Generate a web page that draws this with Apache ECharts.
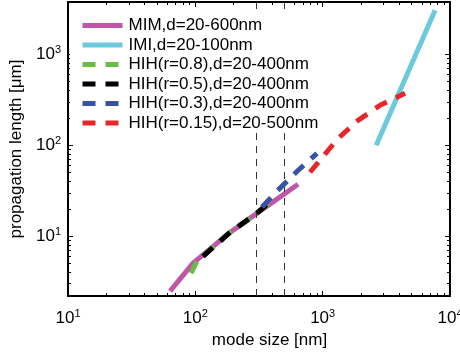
<!DOCTYPE html>
<html>
<head>
<meta charset="utf-8">
<script src="https://cdn.jsdelivr.net/npm/echarts@6/dist/echarts.min.js"></script>
<style>
  html, body { margin: 0; padding: 0; background: #fff; }
  #main { width: 460px; height: 356px; }
</style>
</head>
<body>
<div id="main"></div>
<script>
// series (mode size nm, propagation length um)
const seriesNames = ['MIM,d=20-600nm', 'IMI,d=20-100nm', 'HIH(r=0.8),d=20-400nm',
  'HIH(r=0.5),d=20-400nm', 'HIH(r=0.3),d=20-400nm', 'HIH(r=0.15),d=20-500nm']
const mimX = [63.3, 96, 187, 300, 641]
const mimY = [2.49, 5.05, 11.0, 17.6, 37.3]
const imiX = [2633, 7638]
const imiY = [100, 3048]
const hih08X = [92.5, 103, 187, 300, 431]
const hih08Y = [3.92, 5.31, 11.0, 17.6, 26.5]
const hih05X = [115, 187, 300, 386]
const hih05Y = [6.0, 11.0, 17.6, 23.9]
const hih03X = [334, 438, 630, 903]
const hih03Y = [20.9, 31.3, 51.8, 81.6]
const hih015X = [796, 1321, 1897, 2826, 4437]
const hih015Y = [50.5, 119, 188, 275, 372]
const guideX = [300, 500]

const xMajor = [10, 100, 1000, 10000]
const yMajor = [10, 100, 1000]

const font = 'Liberation Sans, Arial, Helvetica, sans-serif'
const colors = ['#bf56a8', '#6ccadc', '#68bd45', '#000000', '#3953a4', '#e8252b']

function minorTicks (lo, hi) {
  const out = []
  for (let d = lo; d < hi; d *= 10) {
    for (let k = 2; k <= 9; k++) out.push(k * d)
  }
  return out
}

function pairs (xs, ys) {
  return xs.map(function (x, i) { return [x, ys[i]] })
}

const supLabel = function (value) {
  const p = Math.round(Math.log10(value))
  return '10{s|' + p + '}'
}

const xMin = 10, xMax = 10000, yMin = 2.2, yMax = 3760

function makeAxis (dir, pos, major, minor, lo, hi, withLabel) {
  const ax = {
    type: 'log',
    position: pos,
    min: lo,
    max: hi,
    splitLine: { show: false },
    axisLine: { show: withLabel !== null, onZero: false, lineStyle: { color: '#000', width: 2 } },
    axisTick: {
      show: true,
      inside: true,
      length: major ? 5 : 3,
      customValues: major ? (dir === 'x' ? xMajor : yMajor) : minor,
      lineStyle: { color: '#000', width: 1 }
    },
    axisLabel: { show: false }
  }
  if (withLabel) {
    ax.axisLabel = {
      show: true,
      customValues: dir === 'x' ? xMajor : yMajor,
      formatter: supLabel,
      color: '#000',
      fontFamily: font,
      fontSize: 17,
      margin: dir === 'x' ? 12 : 7,
      rich: {
        s: { fontSize: 11, fontFamily: font, color: '#000', padding: [0, 0, 9, 0] }
      }
    }
  }
  return ax
}

const xBottom = makeAxis('x', 'bottom', true, null, xMin, xMax, true)
xBottom.name = 'mode size [nm]'
xBottom.nameLocation = 'middle'
xBottom.nameGap = 31
xBottom.nameTextStyle = { color: '#000', fontFamily: font, fontSize: 17, padding: [0, 0, 0, 21] }

const yLeft = makeAxis('y', 'left', true, null, yMin, yMax, true)
yLeft.name = 'propagation length [\u03bcm]'
yLeft.nameLocation = 'middle'
yLeft.nameGap = 42
yLeft.nameTextStyle = { color: '#000', fontFamily: font, fontSize: 17 }

const xAxes = [
  xBottom,
  makeAxis('x', 'bottom', false, minorTicks(10, 10000), xMin, xMax, null),
  makeAxis('x', 'top', true, null, xMin, xMax, false),
  makeAxis('x', 'top', false, minorTicks(10, 10000), xMin, xMax, null)
]
const yAxes = [
  yLeft,
  makeAxis('y', 'left', false, minorTicks(1, 1000), yMin, yMax, null),
  makeAxis('y', 'right', true, null, yMin, yMax, false),
  makeAxis('y', 'right', false, minorTicks(1, 1000), yMin, yMax, null)
]

const dash = [13, 10]
const lines = [
  { data: pairs(mimX, mimY), type: 'solid' },
  { data: pairs(imiX, imiY), type: 'solid' },
  { data: pairs(hih08X, hih08Y), type: dash },
  { data: pairs(hih05X, hih05Y), type: dash },
  { data: pairs(hih03X, hih03Y), type: dash },
  { data: pairs(hih015X, hih015Y), type: dash }
]

const series = lines.map(function (l, i) {
  const s = {
    name: seriesNames[i],
    type: 'line',
    xAxisIndex: 0,
    yAxisIndex: 0,
    data: l.data,
    symbol: 'circle',
    symbolSize: 0,
    showSymbol: false,
    smooth: false,
    lineStyle: { color: colors[i], width: 5, type: l.type, cap: 'butt' },
    itemStyle: { color: colors[i] },
    z: 3 + i
  }
  if (i === 0) {
    s.markLine = {
      silent: true,
      symbol: 'none',
      label: { show: false },
      lineStyle: { color: '#333', width: 1, type: [7, 6] },
      data: guideX.map(function (v) { return { xAxis: v } })
    }
  }
  return s
})

const chart = echarts.init(document.getElementById('main'))
chart.setOption({
  animation: false,
  color: colors,
  grid: { left: 68, right: 10, top: 2, bottom: 60, containLabel: false, outerBoundsMode: 'none' },
  legend: {
    orient: 'vertical',
    left: 70,
    top: 9,
    padding: [8, 8, 1, 10],
    backgroundColor: '#fff',
    itemWidth: 40,
    itemHeight: 14,
    itemGap: 2.5,
    lineStyle: { width: 5 },
    itemStyle: { opacity: 0 },
    textStyle: { color: '#000', fontFamily: font, fontSize: 17, padding: [0, 0, 0, 1] },
    data: seriesNames,
    z: 10
  },
  xAxis: xAxes,
  yAxis: yAxes,
  series: series
})
</script>
</body>
</html>
